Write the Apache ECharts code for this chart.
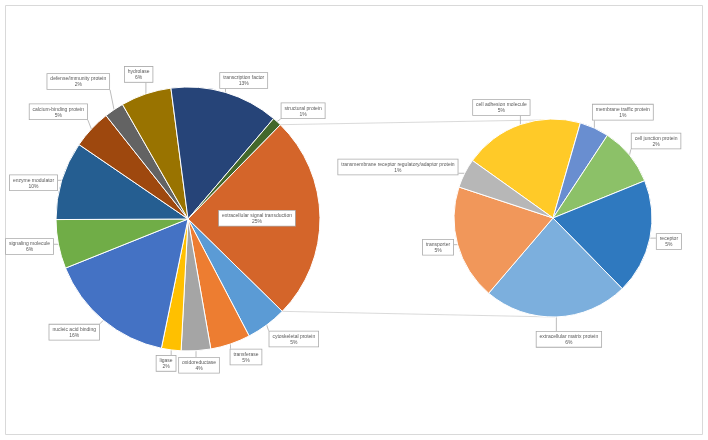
<!DOCTYPE html>
<html>
<head>
<meta charset="utf-8">
<script src="https://cdn.jsdelivr.net/npm/echarts@6/dist/echarts.min.js"></script>
<style>
html,body{margin:0;padding:0;background:#fff;}
#c{width:708px;height:440px;}
</style>
</head>
<body>
<div id="c"></div>
<script>
// Primary pie (percent of total), clockwise from the split slice
const mainNames = ['extracellular signal transduction','cytoskeletal protein','transferase','oxidoreductase','ligase','nucleic acid binding','signaling molecule','enzyme modulator','calcium-binding protein','defense/immunity protein','hydrolase','transcription factor','structural protein'];
const mainValues = [25, 5, 4.9, 3.6, 2.4, 15.7, 6, 9.6, 4.8, 2.4, 6.2, 13.3, 1.1];
const mainColors = ['#D4652A','#5B9BD5','#ED7D31','#A5A5A5','#FFC000','#4472C4','#70AD47','#255E91','#9E480E','#636363','#997300','#264478','#43682B'];

// Secondary pie: breakdown of the 25% slice (percent of total)
const subNames = ['cell adhesion molecule','membrane traffic protein','cell junction protein','receptor','extracellular matrix protein','transporter','transmembrane receptor regulatory/adaptor protein'];
const subValues = [4.9, 1.2, 2.4, 4.7, 5.9, 4.7, 1.2];
const subColors = ['#FFCA28','#698ED0','#8CC168','#2F79BF','#7CAFDD','#F1975A','#B7B7B7'];

// ---- layout (not data) ----
const mainC = [188, 219], mainR = 132;
const subC = [553, 218], subR = 99;
const mainStart = 45.6, subStart = 144.5;
const GAP = 7;
// small callout nudges (px) to mimic the spreadsheet's "best fit" label placement
const labelNudge = [
  [[0,0],[10,-9],[9,-6],[2,-2],[-3,-3],[-10,-11],[3,-4],[3,12],[-8,6],[-18,-2],[-1,-1],[12,9],[7,10]],
  [[-11,6],[17,9],[2,6],[-2,-1],[12,6],[4,-4],[-9,23]]
];

function midAngles(values, start) {
  const tot = values.reduce((a, b) => a + b, 0);
  let acc = start;
  return values.map(v => {
    const span = v / tot * 360;
    const m = acc - span / 2;
    acc -= span;
    return m * Math.PI / 180;
  });
}
const mids = [midAngles(mainValues, mainStart), midAngles(subValues, subStart)];
const geo = [{ c: mainC, r: mainR }, { c: subC, r: subR }];

function layoutLabel(p) {
  if (p.seriesIndex === 0 && p.dataIndex === 0) return {};
  const g = geo[p.seriesIndex];
  const th = mids[p.seriesIndex][p.dataIndex];
  const nd = labelNudge[p.seriesIndex][p.dataIndex];
  const ux = Math.cos(th), uy = -Math.sin(th);
  const w = p.labelRect.width, h = p.labelRect.height;
  const ext = (w / 2) * Math.abs(ux) + (h / 2) * Math.abs(uy);
  const d = g.r + GAP + ext;
  const cx = g.c[0] + d * ux + nd[0], cy = g.c[1] + d * uy + nd[1];
  const ex = g.c[0] + g.r * ux, ey = g.c[1] + g.r * uy;
  const bx = Math.max(cx - w / 2, Math.min(cx + w / 2, ex));
  const by = Math.max(cy - h / 2, Math.min(cy + h / 2, ey));
  return {
    x: cx, y: cy, align: 'center', verticalAlign: 'middle',
    labelLinePoints: [[ex, ey], [bx, by]]
  };
}

const labelStyle = {
  show: true,
  position: 'outside',
  overflow: 'none',
  formatter: p => '{a|' + p.name + '}\n{a|' + Math.round(p.value) + '%}',
  backgroundColor: '#fff',
  borderColor: '#ABABAB',
  borderWidth: 0.8,
  padding: [2, 3, 1, 3],
  rich: { a: { align: 'center', fontSize: 5, lineHeight: 6, color: '#595959', fontFamily: 'Liberation Sans' } }
};
const lineStyle = { show: true, length: 5, length2: 3, lineStyle: { color: '#ABABAB', width: 0.8 } };

const mainData = mainNames.map((n, i) => {
  const d = { name: n, value: mainValues[i], itemStyle: { color: mainColors[i] } };
  if (i === 0) d.label = { position: 'inside' };
  return d;
});
const subData = subNames.map((n, i) => ({ name: n, value: subValues[i], itemStyle: { color: subColors[i] } }));

// connector lines from the split slice edges to the secondary pie
const total = mainValues.reduce((a, b) => a + b, 0);
const a1 = mainStart * Math.PI / 180;
const a2 = (mainStart - mainValues[0] / total * 360) * Math.PI / 180;
const p1 = [mainC[0] + mainR * Math.cos(a1), mainC[1] - mainR * Math.sin(a1)];
const p2 = [mainC[0] + mainR * Math.cos(a2), mainC[1] - mainR * Math.sin(a2)];
const q1 = [subC[0] - 12, subC[1] - subR + 1];
const q2 = [subC[0] + 2, subC[1] + subR];

const chart = echarts.init(document.getElementById('c'), null, { renderer: 'canvas' });
chart.setOption({
  backgroundColor: '#fff',
  animation: false,
  graphic: [
    { type: 'rect', shape: { x: 5.5, y: 5.5, width: 697, height: 429 }, style: { fill: 'none', stroke: '#D9D9D9', lineWidth: 1 }, z: -10 },
    { type: 'line', shape: { x1: p1[0], y1: p1[1], x2: q1[0], y2: q1[1] }, style: { stroke: '#D0D0D0', lineWidth: 0.8 }, z: -5 },
    { type: 'line', shape: { x1: p2[0], y1: p2[1], x2: q2[0], y2: q2[1] }, style: { stroke: '#D0D0D0', lineWidth: 0.8 }, z: -5 }
  ],
  series: [
    {
      type: 'pie', center: mainC, radius: mainR, startAngle: mainStart, clockwise: true,
      avoidLabelOverlap: false,
      itemStyle: { borderColor: '#fff', borderWidth: 1 },
      label: labelStyle, labelLine: lineStyle, labelLayout: layoutLabel,
      emphasis: { disabled: true },
      data: mainData
    },
    {
      type: 'pie', center: subC, radius: subR, startAngle: subStart, clockwise: true,
      avoidLabelOverlap: false,
      itemStyle: { borderColor: '#fff', borderWidth: 1 },
      label: labelStyle, labelLine: lineStyle, labelLayout: layoutLabel,
      emphasis: { disabled: true },
      data: subData
    }
  ]
});
</script>
</body>
</html>
